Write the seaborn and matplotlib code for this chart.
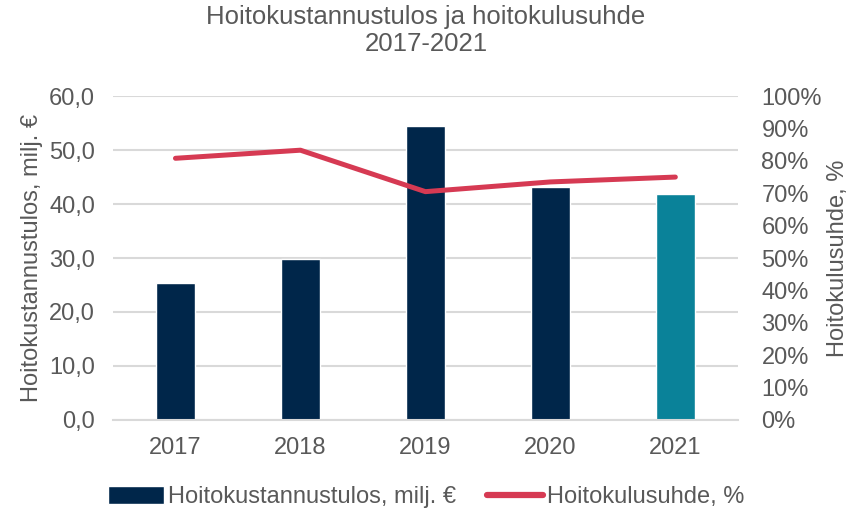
import numpy as np
import pandas as pd
import seaborn as sns
import matplotlib.pyplot as plt
from matplotlib.patches import Patch
from matplotlib.lines import Line2D

# data
vuodet = ["2017", "2018", "2019", "2020", "2021"]
tulos = [25.3, 29.9, 54.4, 43.1, 41.9]          # milj. €
kulusuhde = [80.8, 83.3, 70.5, 73.5, 75.0]      # %
varit = ["#00264A", "#00264A", "#00264A", "#00264A", "#0A8299"]

teksti = "#595959"
viiva = "#D63A53"
fs = 17

sns.set_theme(style="white")
plt.rcParams["font.family"] = ["Liberation Sans", "DejaVu Sans"]

df = pd.DataFrame({"vuosi": vuodet, "tulos": tulos, "suhde": kulusuhde})
df["pos"] = np.arange(len(df))

fig = plt.figure(figsize=(8.52, 5.14), dpi=100)
ax = fig.add_axes([0.1326, 0.183, 0.7334, 0.630])

sns.barplot(data=df, x="vuosi", y="tulos", hue="vuosi", palette=varit,
            legend=False, width=0.31, saturation=1, ax=ax)
ax.set_ylim(0, 60)
ax.set_yticks(np.arange(0, 61, 10))
ax.set_yticklabels([f"{v:.1f}".replace(".", ",") for v in np.arange(0, 61, 10)])
ax.set_xlim(-0.5, 4.5)
ax.yaxis.grid(True, color="#D9D9D9", linewidth=1.5)
ax.set_axisbelow(True)
for s in ["top", "right", "left"]:
    ax.spines[s].set_visible(False)
ax.spines["bottom"].set_color("#D9D9D9")
ax.spines["bottom"].set_linewidth(1.5)
ax.tick_params(axis="both", length=0, labelsize=fs, colors=teksti)
ax.tick_params(axis="y", pad=13)
ax.tick_params(axis="x", pad=12)
ax.set_xlabel("")
ax.set_ylabel("Hoitokustannustulos, milj. €", fontsize=fs, color=teksti, labelpad=4)

ax2 = ax.twinx()
sns.lineplot(data=df, x="pos", y="suhde", color=viiva, linewidth=3.6,
             solid_capstyle="round", ax=ax2)
ax2.set_ylim(0, 100)
ax2.set_yticks(np.arange(0, 101, 10))
ax2.set_yticklabels([f"{v}%" for v in range(0, 101, 10)])
ax2.set_xlim(-0.5, 4.5)
for s in ["top", "right", "left", "bottom"]:
    ax2.spines[s].set_visible(False)
ax2.tick_params(axis="y", length=0, labelsize=fs, colors=teksti, pad=17)
ax2.set_ylabel("Hoitokulusuhde, %", fontsize=fs, color=teksti, labelpad=4)
ax2.set_xlabel("")

fig.suptitle("Hoitokustannustulos ja hoitokulusuhde\n2017-2021",
             fontsize=18.5, color=teksti, y=0.99, linespacing=1.15)

kahvat = [Patch(facecolor=varit[0], label="Hoitokustannustulos, milj. €"),
          Line2D([0], [0], color=viiva, linewidth=4.5, solid_capstyle="round",
                 label="Hoitokulusuhde, %")]
fig.legend(handles=kahvat, loc="center", bbox_to_anchor=(0.5, 0.033), ncol=2,
           frameon=False, fontsize=fs, labelcolor=teksti, handlelength=2.4,
           handleheight=0.8, handletextpad=0.15, columnspacing=1.3)

fig.savefig("out.png", dpi=100)
